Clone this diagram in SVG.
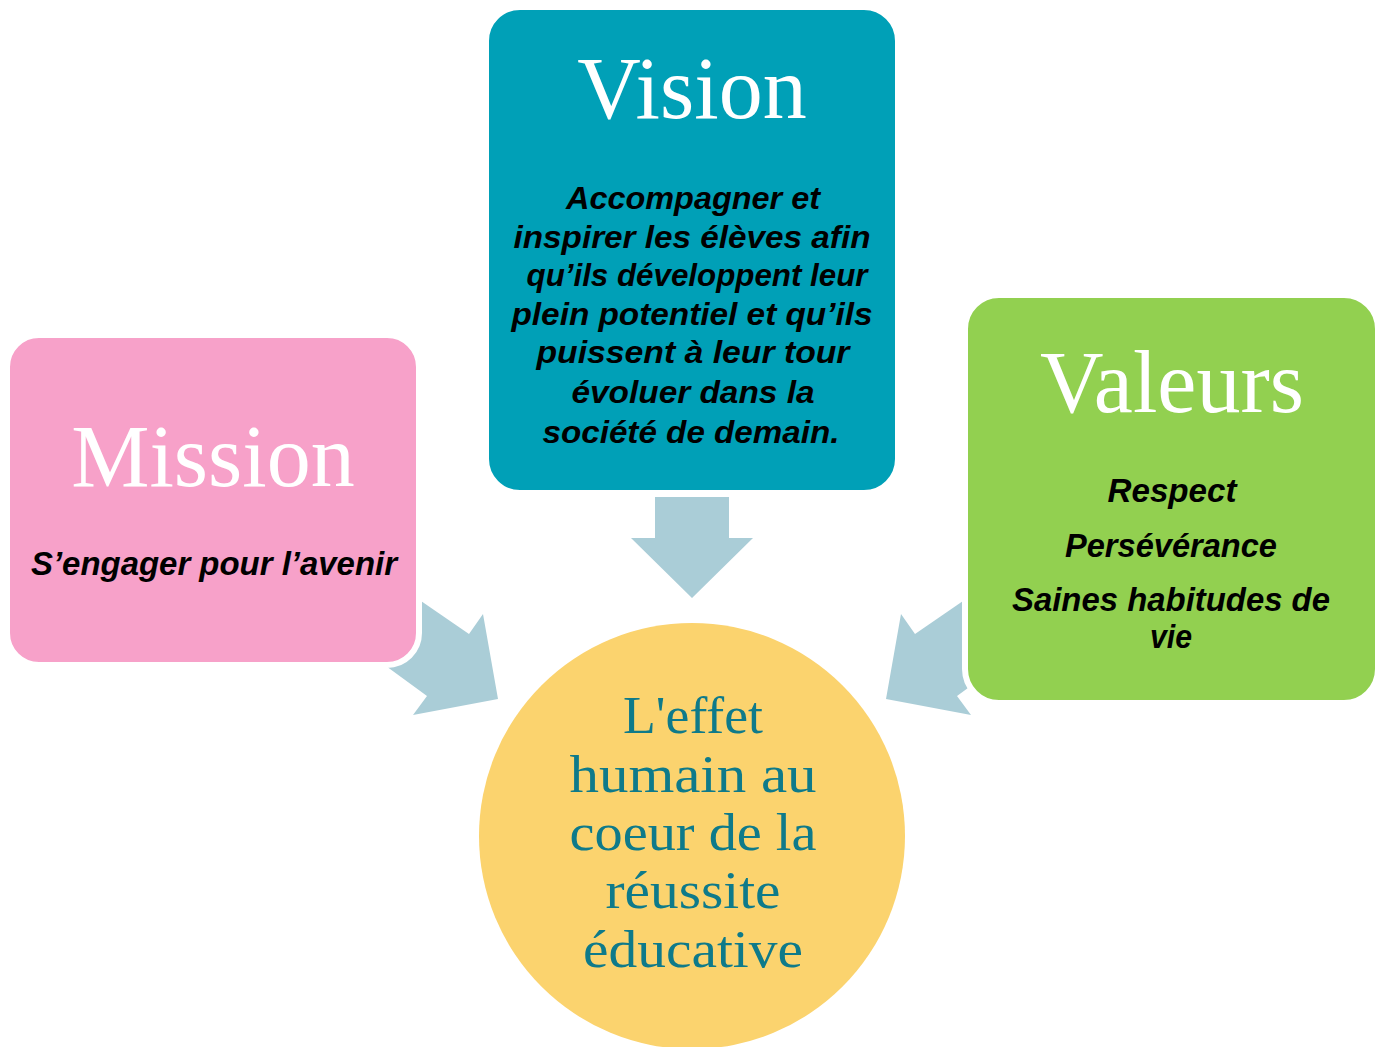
<svg xmlns="http://www.w3.org/2000/svg" width="1384" height="1047" viewBox="0 0 1384 1047">
<style>
.arrow{fill:#AACDD7;stroke:none}
.box{stroke:#FFFFFF;stroke-width:6}
.title{font-family:"Liberation Serif","Times New Roman",serif;font-size:88px;fill:#FFFFFF;text-anchor:middle}
.hand{font-family:"Liberation Sans",Arial,sans-serif;font-style:italic;font-weight:bold;fill:#000000;text-anchor:middle}
.ctext{font-family:"Liberation Serif","Times New Roman",serif;font-size:52px;fill:#0E7A8A;text-anchor:middle}
</style>
<rect x="0" y="0" width="1384" height="1047" fill="#FFFFFF"/>
<g id="connectors">
  <polygon class="arrow" points="655,497 729,497 729,538 753,538 692,598 631,538 655,538"/>
  <polygon class="arrow" points="405,590 469,634 483,614 498,699 413,715 427,696 375,658"/>
  <polygon class="arrow" points="979,590 915,634 901,614 886,699 971,715 957,696 1009,658"/>
</g>
<g id="mission">
  <rect class="box" x="7" y="335" width="412" height="330" rx="32" ry="32" fill="#F7A1C9"/>
  <text class="title" x="213" y="486">Mission</text>
  <text class="hand" x="214" y="575" font-size="33" textLength="366" lengthAdjust="spacingAndGlyphs">S’engager pour l’avenir</text>
</g>
<g id="vision">
  <rect class="box" x="486" y="7" width="412" height="486" rx="34" ry="34" fill="#00A0B7"/>
  <text class="title" x="692" y="118">Vision</text>
  <g class="hand" font-size="31">
    <text x="693" y="209" textLength="254" lengthAdjust="spacingAndGlyphs">Accompagner et</text>
    <text x="692" y="248" textLength="357" lengthAdjust="spacingAndGlyphs">inspirer les élèves afin</text>
    <text x="697" y="286" textLength="341" lengthAdjust="spacingAndGlyphs">qu’ils développent leur</text>
    <text x="692" y="325" textLength="361" lengthAdjust="spacingAndGlyphs">plein potentiel et qu’ils</text>
    <text x="693" y="363" textLength="313" lengthAdjust="spacingAndGlyphs">puissent à leur tour</text>
    <text x="693" y="403" textLength="243" lengthAdjust="spacingAndGlyphs">évoluer dans la</text>
    <text x="691" y="443" textLength="297" lengthAdjust="spacingAndGlyphs">société de demain.</text>
  </g>
</g>
<g id="valeurs">
  <rect class="box" x="965" y="295" width="413" height="408" rx="34" ry="34" fill="#92D050"/>
  <text class="title" x="1172" y="412">Valeurs</text>
  <g class="hand" font-size="33">
    <text x="1172" y="502" textLength="129" lengthAdjust="spacingAndGlyphs">Respect</text>
    <text x="1171" y="557" textLength="212" lengthAdjust="spacingAndGlyphs">Persévérance</text>
    <text x="1171" y="611" textLength="318" lengthAdjust="spacingAndGlyphs">Saines habitudes de</text>
    <text x="1171" y="648" textLength="42" lengthAdjust="spacingAndGlyphs">vie</text>
  </g>
</g>
<g id="effet">
  <circle cx="692" cy="836" r="213" fill="#FBD36E"/>
  <text class="ctext" x="693" y="733" textLength="140" lengthAdjust="spacingAndGlyphs">L'effet</text>
  <text class="ctext" x="693" y="792" textLength="247" lengthAdjust="spacingAndGlyphs">humain au</text>
  <text class="ctext" x="693" y="850" textLength="247" lengthAdjust="spacingAndGlyphs">coeur de la</text>
  <text class="ctext" x="693" y="908" textLength="175" lengthAdjust="spacingAndGlyphs">réussite</text>
  <text class="ctext" x="693" y="967" textLength="220" lengthAdjust="spacingAndGlyphs">éducative</text>
</g>
</svg>
